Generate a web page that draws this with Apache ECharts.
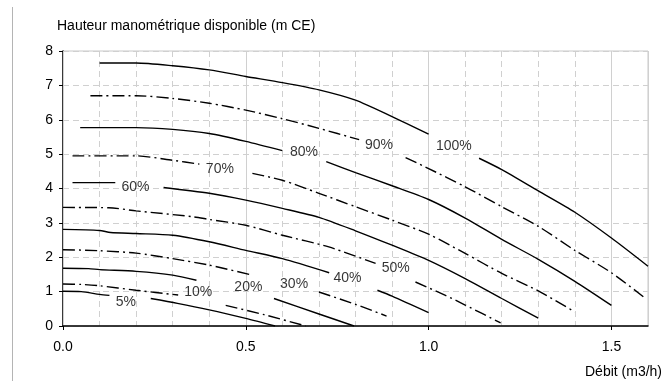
<!DOCTYPE html>
<html>
<head>
<meta charset="utf-8">
<script src="https://cdn.jsdelivr.net/npm/echarts@6/dist/echarts.min.js"></script>
<style>html,body{margin:0;padding:0;background:#fff;}#c{width:662px;height:381px;}</style>
</head>
<body>
<div id="c"></div>
<script>
// Curves: [flow m3/h, head mCE]; null marks a gap where the label sits
const curve100 = [[0.1,7.65],[0.2,7.65],[0.3,7.57],[0.4,7.45],[0.5,7.26],[0.6,7.08],[0.7,6.87],[0.8,6.57],[0.9,6.09],[1.0,5.58],null,[1.138,4.88],[1.2,4.55],[1.3,3.93],[1.4,3.31],[1.5,2.56],[1.6,1.74]];
const curve90 = [[0.075,6.70],[0.2,6.70],[0.3,6.62],[0.4,6.48],[0.5,6.28],[0.6,6.03],[0.7,5.75],[0.81,5.42],null,[0.937,4.9],[1.0,4.58],[1.1,4.05],[1.2,3.47],[1.3,2.9],[1.4,2.2],[1.5,1.55],[1.59,0.83]];
const curve80 = [[0.047,5.77],[0.2,5.77],[0.3,5.72],[0.4,5.6],[0.5,5.37],[0.6,5.1],null,[0.72,4.78],[0.8,4.46],[0.9,4.08],[1.0,3.68],[1.1,3.14],[1.2,2.52],[1.3,1.94],[1.4,1.3],[1.5,0.6]];
const curve70 = [[0.026,4.95],[0.2,4.95],[0.3,4.82],[0.373,4.71],null,[0.518,4.44],[0.6,4.24],[0.7,3.86],[0.8,3.47],[0.9,3.08],[1.0,2.67],[1.1,2.11],[1.2,1.53],[1.3,1.02],[1.4,0.41]];
const curve60 = [[0.026,4.17],[0.143,4.17],null,[0.275,4.03],[0.4,3.86],[0.5,3.66],[0.6,3.42],[0.7,3.16],[0.8,2.77],[0.9,2.35],[1.0,1.91],[1.1,1.38],[1.2,0.8],[1.3,0.23]];
const curve50 = [[0,3.45],[0.125,3.44],[0.2,3.35],[0.354,3.18],[0.4,3.10],[0.5,2.93],[0.6,2.64],[0.727,2.3],[0.855,1.82],null,[0.964,1.28],[1.046,0.89],[1.1,0.61],[1.197,0.09]];
const curve40 = [[0,2.81],[0.1,2.78],[0.13,2.72],[0.2,2.69],[0.3,2.64],[0.4,2.45],[0.5,2.2],[0.6,1.96],[0.728,1.55],null,[0.86,1.04],[0.9,0.87],[1.0,0.39]];
const curve30 = [[0,2.22],[0.1,2.19],[0.2,2.12],[0.3,1.96],[0.4,1.77],[0.518,1.48],null,[0.7,0.99],[0.8,0.63],[0.885,0.29]];
const curve20 = [[0,1.68],[0.07,1.67],[0.1,1.64],[0.2,1.59],[0.3,1.48],[0.365,1.33],null,[0.577,0.8],[0.7,0.35],[0.796,0]];
const curve10 = [[0,1.22],[0.05,1.21],[0.1,1.17],[0.2,1.04],[0.315,0.9],null,[0.445,0.6],[0.55,0.33],[0.664,0]];
const curve5 = [[0,1.01],[0.05,1.0],[0.1,0.92],[0.127,0.89],null,[0.24,0.8],[0.313,0.66],[0.4,0.47],[0.5,0.22],[0.58,0]];

const curveNames = ['100%','90%','80%','70%','60%','50%','40%','30%','20%','10%','5%'];
const curveData = [curve100,curve90,curve80,curve70,curve60,curve50,curve40,curve30,curve20,curve10,curve5];
const curveDashed = [false,true,false,true,false,true,false,true,false,true,false];

// Label positions (flow, head) for the percentage labels
const labelText = ['100%','90%','80%','70%','60%','50%','40%','30%','20%','10%','5%'];
const labelX = [1.069,0.864,0.659,0.429,0.198,0.910,0.778,0.632,0.507,0.370,0.172];
const labelY = [5.24,5.26,5.07,4.56,4.05,1.67,1.38,1.21,1.14,0.99,0.70];

const xTicks = [0, 0.5, 1.0, 1.5];
const yTicks = [0,1,2,3,4,5,6,7,8];

const FONT = 'Liberation Sans';
const series = [];
curveData.forEach((c, i) => {
  let seg = [];
  const flush = () => {
    if (seg.length > 1) {
      series.push({
        type: 'line', name: curveNames[i], data: seg, showSymbol: false, symbol: 'none',
        smooth: 0.25, animation: false, silent: true,
        lineStyle: { color: '#000', width: 1.4, type: curveDashed[i] ? [12,4,2,4] : 'solid' },
        z: 3
      });
    }
    seg = [];
  };
  c.forEach(p => { if (p === null) flush(); else seg.push(p); });
  flush();
});
series.push({
  type: 'scatter', data: labelX.map((x, i) => [x, labelY[i], labelText[i]]),
  symbolSize: 1, itemStyle: { color: 'rgba(0,0,0,0)' }, animation: false, silent: true, z: 5,
  label: { show: true, position: 'inside', formatter: p => p.data[2], color: '#000', fontSize: 14, fontFamily: FONT }
});

const chart = echarts.init(document.getElementById('c'), null, { renderer: 'canvas' });
chart.setOption({
  animation: false,
  backgroundColor: '#fff',
  grid: { left: 63, right: 14, top: 51, bottom: 55, show: true, borderColor: '#c8c8c8', borderWidth: 1, backgroundColor: 'transparent' },
  xAxis: [{
    type: 'value', min: 0, max: 1.6, interval: 0.5,
    axisLine: { show: true, onZero: false, lineStyle: { color: '#000', width: 1.5 } },
    axisTick: { show: true, length: 4, lineStyle: { color: '#000' } },
    axisLabel: { color: '#000', fontSize: 14, fontFamily: FONT, margin: 14, showMaxLabel: false,
      formatter: v => (xTicks.indexOf(v) >= 0 ? v.toFixed(1) : '') },
    splitLine: { show: true, lineStyle: { color: '#d0d0d0', width: 1 } },
    z: 2
  }, {
    type: 'value', min: 0, max: 1.6, interval: 0.1, position: 'top',
    axisLine: { show: false }, axisTick: { show: false }, axisLabel: { show: false },
    splitLine: { show: true, lineStyle: { color: '#d0d0d0', width: 1, type: [6,4] } }
  }],
  yAxis: {
    type: 'value', min: 0, max: 8, interval: 1,
    axisLine: { show: true, lineStyle: { color: '#000', width: 1.5 } },
    axisTick: { show: true, length: 4, lineStyle: { color: '#000' } },
    axisLabel: { color: '#000', fontSize: 14, fontFamily: FONT, margin: 10,
      formatter: v => (yTicks.indexOf(v) >= 0 ? String(v) : '') },
    splitLine: { show: true, lineStyle: { color: '#d0d0d0', width: 1, type: [6,4] } }
  },
  graphic: [
    { type: 'line', shape: { x1: 12.5, y1: 7, x2: 12.5, y2: 381 }, style: { stroke: '#b4b4b4', lineWidth: 1 }, silent: true },
    { type: 'text', left: 57, top: 19, style: { text: 'Hauteur manométrique disponible (m CE)', fill: '#000', font: '14px "Liberation Sans"' } },
    { type: 'text', left: 585, top: 365, style: { text: 'Débit (m3/h)', fill: '#000', font: '14px "Liberation Sans"' } }
  ],
  series: series
});
</script>
</body>
</html>
